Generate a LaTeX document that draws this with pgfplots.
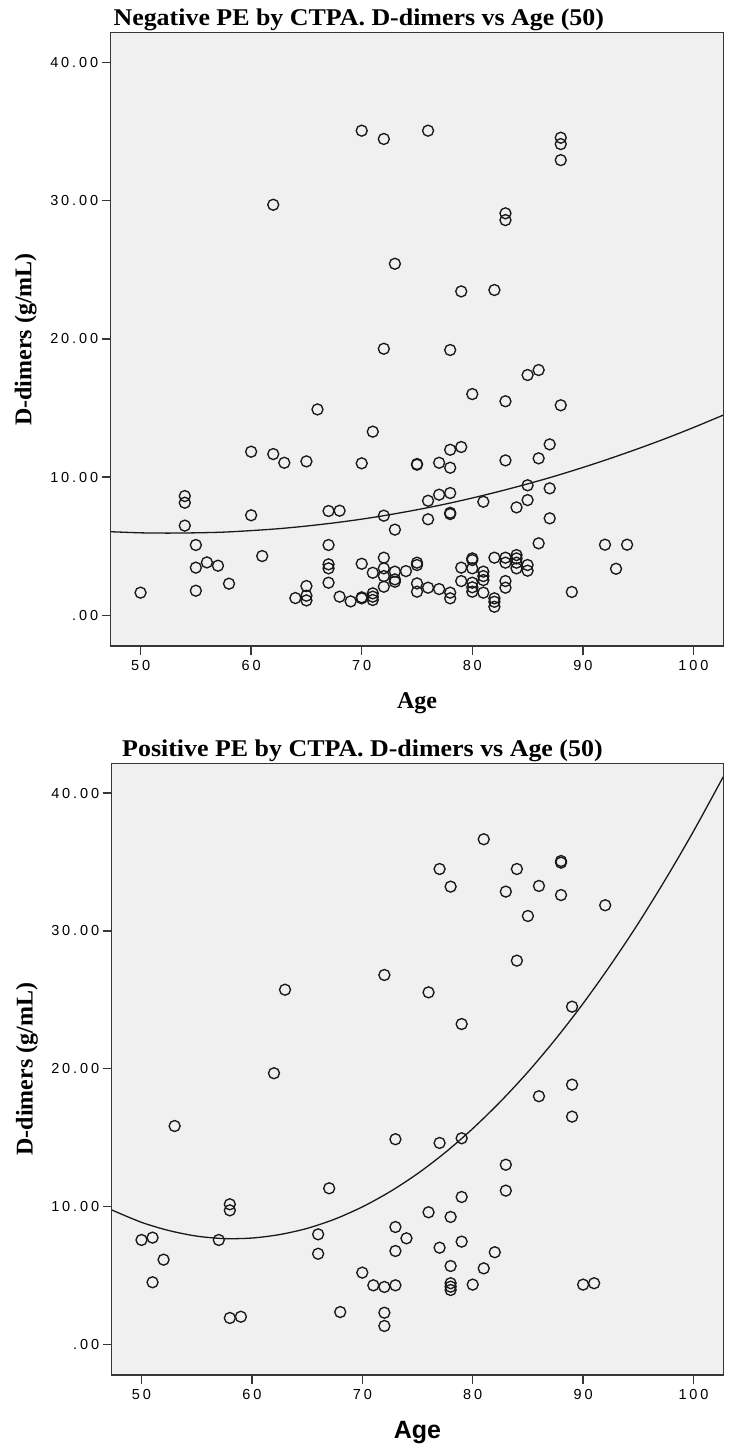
\documentclass[border=0pt]{standalone}
\usepackage{pgfplots}
\pgfplotsset{compat=1.18}
\usepackage{fontspec}
\setmainfont{Liberation Serif}
\newfontfamily\tickfont[LetterSpace=20]{Liberation Sans}
\newfontfamily\sansfont{Liberation Sans}
\newfontfamily\titlefont[FakeStretch=1.08]{Liberation Serif Bold}
\definecolor{plotbg}{RGB}{240,240,240}
\definecolor{frame}{RGB}{55,55,55}

\pgfplotstableread{
age v
50 1.64
54 8.63
54 8.15
54 6.49
55 5.09
55 3.45
55 1.78
56 3.83
57 3.59
58 2.29
60 11.84
60 7.24
61 4.29
62 11.67
62 29.71
63 11.04
64 1.25
65 11.14
65 2.12
65 1.42
65 1.08
66 14.90
67 7.55
67 5.09
67 3.69
67 3.40
67 2.36
68 7.57
68 1.35
69 1.01
70 35.07
70 11.00
70 3.73
70 1.23
70 1.30
71 13.29
71 3.08
71 1.59
71 1.35
71 1.11
72 34.47
72 19.29
72 7.21
72 4.17
72 3.40
72 2.84
72 2.07
73 25.44
73 6.20
73 3.16
73 2.60
73 2.43
74 3.20
75 10.95
75 10.90
75 3.81
75 3.64
75 2.31
75 1.71
76 35.07
76 8.29
76 6.95
76 2.00
77 11.04
77 8.73
77 1.90
78 19.20
78 11.98
78 10.68
78 8.85
78 7.42
78 7.33
78 1.64
78 1.23
79 23.44
79 12.18
79 3.45
79 2.48
80 16.01
80 4.12
80 4.00
80 3.40
80 2.36
80 2.03
80 1.71
81 8.22
81 3.16
81 2.84
81 2.55
81 1.64
82 23.54
82 4.17
82 1.23
82 0.98
82 0.62
83 29.09
83 28.60
83 15.49
83 11.21
83 4.17
83 3.81
83 2.48
83 2.00
84 7.81
84 4.36
84 4.12
84 3.81
84 3.40
85 17.39
85 9.41
85 8.34
85 3.64
85 3.23
86 17.75
86 11.36
86 5.21
87 12.37
87 9.19
87 7.02
88 34.56
88 34.10
88 32.94
88 15.20
89 1.69
92 5.11
93 3.37
94 5.11
}\negdata

\pgfplotstableread{
age v
47.3 6.05
50 5.97
52.5 5.95
55 5.97
57.5 6.02
60 6.13
62.5 6.27
65 6.46
67.5 6.69
70 6.96
72.5 7.28
75 7.64
77.5 8.04
80 8.49
82.5 8.98
85 9.51
87.5 10.08
90 10.70
92.5 11.36
95 12.06
97.5 12.80
100 13.59
102.7 14.49
}\negfit

\pgfplotstableread{
age v
50 7.57
51 7.74
51 4.50
52 6.14
53 15.84
57 7.57
58 10.16
58 9.72
58 1.91
59 2.00
62 19.67
63 25.73
66 7.98
66 6.57
67 11.32
68 2.34
70 5.20
71 4.28
72 26.80
72 4.16
72 2.29
72 1.33
73 14.88
73 8.51
73 6.77
73 4.28
74 7.69
76 25.54
76 9.58
77 34.49
77 14.61
77 7.01
78 33.21
78 9.24
78 5.68
78 4.43
78 4.18
78 3.94
79 23.24
79 14.95
79 10.69
79 7.45
80 4.33
81 36.65
81 5.51
82 6.68
83 32.85
83 13.03
83 11.15
84 34.49
84 27.84
85 31.08
86 33.26
86 18.00
88 35.07
88 34.95
88 32.60
89 24.50
89 18.84
89 16.52
90 4.33
91 4.43
92 31.86
}\posdata

\pgfplotstableread{
age v
47.3 9.75
50 8.85
52.5 8.25
55 7.85
57.5 7.67
60 7.71
62.5 7.96
65 8.41
67.5 9.08
70 9.97
72.5 11.07
75 12.38
77.5 13.91
80 15.65
82.5 17.60
85 19.76
87.5 22.14
90 24.73
92.5 27.54
95 30.55
97.5 33.79
100 37.23
102.7 41.19
}\posfit

\pgfplotsset{
  spssaxis/.style={
    scale only axis,
    axis background/.style={fill=plotbg},
    axis line style={draw=frame, line width=1.4pt},
    xmin=47.3, xmax=102.7,
    ymin=-2.22, ymax=42.16,
    xtick={50,60,70,80,90,100},
    xticklabels={50,60,70,80,90,100},
    ytick={0,10,20,30,40},
    yticklabels={.00,10.00,20.00,30.00,40.00},
    tick pos=left,
    tick align=outside,
    major tick length=9pt,
    every tick/.style={draw=frame, line width=1.4pt},
    ticklabel style={font=\tickfont\fontsize{14.5}{14.5}\selectfont, text=black},
    xticklabel style={yshift=-2pt},
    yticklabel style={xshift=0pt},
    title style={font=\titlefont\fontsize{24}{24}\selectfont, anchor=base},
    ylabel style={font=\bfseries\fontsize{24}{24}\selectfont, at={(axis description cs:-0.115,0.5)}, anchor=south},
  },
  scatterstyle/.style={only marks, mark=o, mark size=5.5pt, mark options={draw=black!90, line width=1.35pt}},
  fitstyle/.style={no marks, smooth, draw=black!90, line width=1.3pt},
}

\begin{document}
\begin{tikzpicture}[x=1pt,y=1pt]
\useasboundingbox (0,0) rectangle (728,-1445);

\begin{axis}[spssaxis,
  at={(110.7pt,-646pt)}, anchor=south west,
  width=612.6pt, height=613.3pt,
  title={Negative PE by CTPA. D-dimers vs Age (50)},
  title style={at={(axis description cs:0.405,1)}, yshift=1pt},
  xlabel={Age},
  xlabel style={font=\bfseries\fontsize{24}{24}\selectfont, at={(axis description cs:0.5,0)}, anchor=base, yshift=-62pt},
  ylabel={D-dimers (g/mL)},
]
\addplot[scatterstyle] table[x=age,y=v] {\negdata};
\addplot[fitstyle] table[x=age,y=v] {\negfit};
\end{axis}

\begin{axis}[spssaxis,
  at={(111.7pt,-1375pt)}, anchor=south west,
  width=611.6pt, height=611.7pt,
  ymin=-2.23,
  title={Positive PE by CTPA. D-dimers vs Age (50)},
  title style={at={(axis description cs:0.41,1)}, yshift=1pt},
  xlabel={Age},
  xlabel style={font=\sansfont\bfseries\fontsize{25}{25}\selectfont, at={(axis description cs:0.5,0)}, anchor=base, yshift=-63pt},
  ylabel={D-dimers (g/mL)},
]
\addplot[scatterstyle] table[x=age,y=v] {\posdata};
\addplot[fitstyle] table[x=age,y=v] {\posfit};
\end{axis}
\end{tikzpicture}
\end{document}
